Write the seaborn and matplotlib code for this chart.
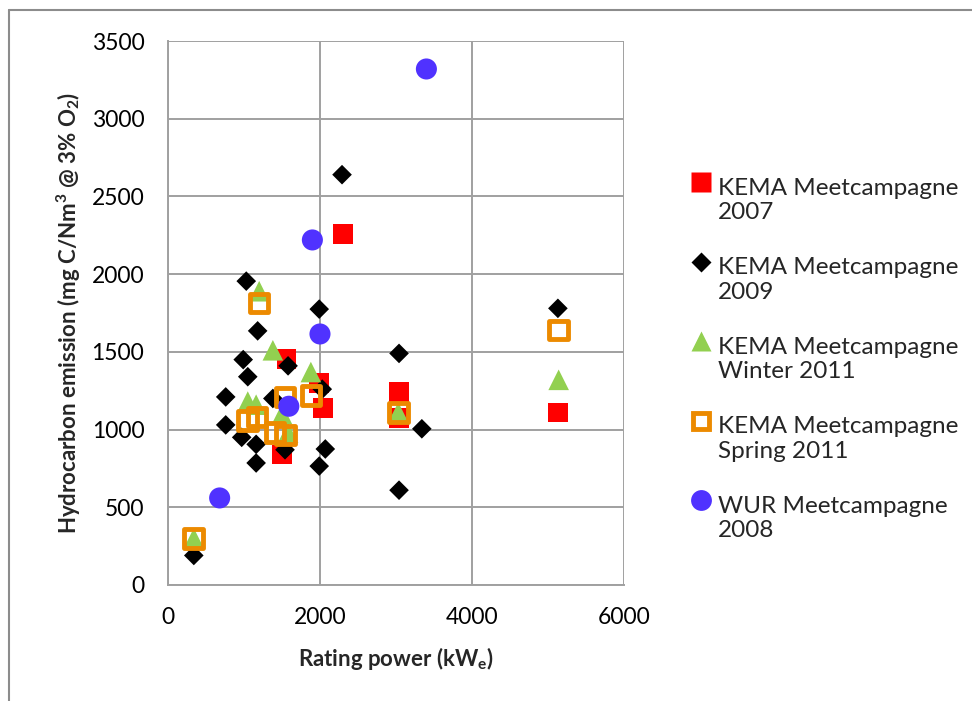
import numpy as np
import pandas as pd
import matplotlib
matplotlib.use("Agg")
import matplotlib.pyplot as plt
import seaborn as sns
from matplotlib.lines import Line2D
from matplotlib.legend_handler import HandlerLine2D

# data
kema07_x = [2300, 1560, 1990, 2040, 1500, 3040, 3040, 5130]
kema07_y = [2260, 1455, 1300, 1140, 840, 1240, 1075, 1110]

kema09_x = [2290, 1030, 1990, 1180, 990, 1050, 1580, 760, 2030, 1380, 760,
            970, 1160, 1540, 1160, 2070, 1990, 340, 3040, 3340, 3040, 5130]
kema09_y = [2640, 1955, 1775, 1635, 1450, 1340, 1410, 1210, 1260, 1200, 1030,
            950, 905, 870, 785, 875, 765, 190, 1490, 1005, 610, 1780]

winter11_x = [1200, 1380, 1880, 1050, 1160, 1500, 1580, 340, 3030, 5140]
winter11_y = [1890, 1510, 1370, 1180, 1160, 1100, 980, 300, 1110, 1320]

spring11_x = [1200, 1540, 1880, 1050, 1170, 1410, 1550, 340, 3030, 5140]
spring11_y = [1815, 1210, 1220, 1060, 1080, 980, 965, 300, 1110, 1640]

wur08_x = [3400, 1900, 2000, 1590, 680]
wur08_y = [3320, 2220, 1615, 1150, 560]

labels = ["KEMA Meetcampagne\n2007", "KEMA Meetcampagne\n2009",
          "KEMA Meetcampagne\nWinter 2011", "KEMA Meetcampagne\nSpring 2011",
          "WUR Meetcampagne\n2008"]

sns.set_style("white")
plt.rcParams['font.family'] = ['Lato', 'DejaVu Sans']
plt.rcParams['mathtext.fontset'] = 'custom'
plt.rcParams['mathtext.rm'] = 'Lato'
plt.rcParams['mathtext.bf'] = 'Lato:bold'

fig, ax = plt.subplots(figsize=(9.72, 7.01), dpi=100)
fig.subplots_adjust(left=0.1728, right=0.642, bottom=0.1655, top=0.9415)

red = '#FF0000'
green = '#92D050'
orange = '#EC8A00'
blue = '#5032FF'

sns.scatterplot(x=kema07_x, y=kema07_y, marker='s', s=200, color=red,
                edgecolor='none', ax=ax, zorder=3)
sns.scatterplot(x=kema09_x, y=kema09_y, marker='D', s=100, color='black',
                edgecolor='none', ax=ax, zorder=3)
sns.scatterplot(x=winter11_x, y=winter11_y, marker='^', s=220, color=green,
                edgecolor='none', ax=ax, zorder=3)
sns.scatterplot(x=spring11_x, y=spring11_y, marker='s', s=180, facecolor='none',
                edgecolor=orange, linewidth=3.5, ax=ax, zorder=3)
sns.scatterplot(x=wur08_x, y=wur08_y, marker='o', s=230, color=blue,
                edgecolor='none', ax=ax, zorder=3)

ax.set_xlim(0, 6000)
ax.set_ylim(0, 3500)
ax.set_xticks([0, 2000, 4000, 6000])
ax.set_yticks(np.arange(0, 3501, 500))
ax.grid(True, color='#A0A0A0', linewidth=1.4)
ax.set_axisbelow(True)
for side in ['top', 'right']:
    ax.spines[side].set_visible(False)
for side in ['left', 'bottom']:
    ax.spines[side].set_color('#A0A0A0')
    ax.spines[side].set_linewidth(1.4)
ax.tick_params(axis='both', direction='out', length=6, width=1.4, color='#A0A0A0',
               labelsize=16.5, labelcolor='black')
ax.tick_params(axis='y', pad=11)
ax.tick_params(axis='x', pad=10)

ax.set_xlabel(r'Rating power (kW$_\mathbf{e}$)', fontsize=16, fontweight='bold', labelpad=12)
ax.set_ylabel(r'Hydrocarbon emission (mg C/Nm$^\mathbf{3}$ @ 3% O$_\mathbf{2}$)',
              fontsize=16, fontweight='bold', labelpad=6)


class FirstLineHandler(HandlerLine2D):
    # put the marker next to the first line of a two line label
    def create_artists(self, legend, orig_handle, xdescent, ydescent, width,
                       height, fontsize, trans):
        arts = super().create_artists(legend, orig_handle, xdescent, ydescent,
                                      width, height, fontsize, trans)
        for a in arts:
            a.set_ydata(np.asarray(a.get_ydata()) + 0.75 * fontsize)
        return arts


handles = [
    Line2D([], [], linestyle='none', marker='s', markersize=14, color=red, markeredgecolor='none'),
    Line2D([], [], linestyle='none', marker='D', markersize=10, color='black', markeredgecolor='none'),
    Line2D([], [], linestyle='none', marker='^', markersize=15, color=green, markeredgecolor='none'),
    Line2D([], [], linestyle='none', marker='s', markersize=11.5, markerfacecolor='none',
           markeredgecolor=orange, markeredgewidth=3.5),
    Line2D([], [], linestyle='none', marker='o', markersize=15, color=blue, markeredgecolor='none'),
]
leg = fig.legend(handles, labels, loc='upper left', bbox_to_anchor=(0.702, 0.76),
                 frameon=False, fontsize=17.5, handlelength=0.75, handletextpad=0.3,
                 labelspacing=1.4, borderaxespad=0,
                 handler_map={Line2D: FirstLineHandler()})

# outer chart border (only top and left edges are in view)
fig.add_artist(Line2D([9 / 972, 9 / 972], [0, 1 - 10 / 701], transform=fig.transFigure,
                      color='#8C8C8C', linewidth=1.5))
fig.add_artist(Line2D([9 / 972, 1], [1 - 10 / 701, 1 - 10 / 701], transform=fig.transFigure,
                      color='#8C8C8C', linewidth=1.5))

fig.savefig('out.png', dpi=100)
